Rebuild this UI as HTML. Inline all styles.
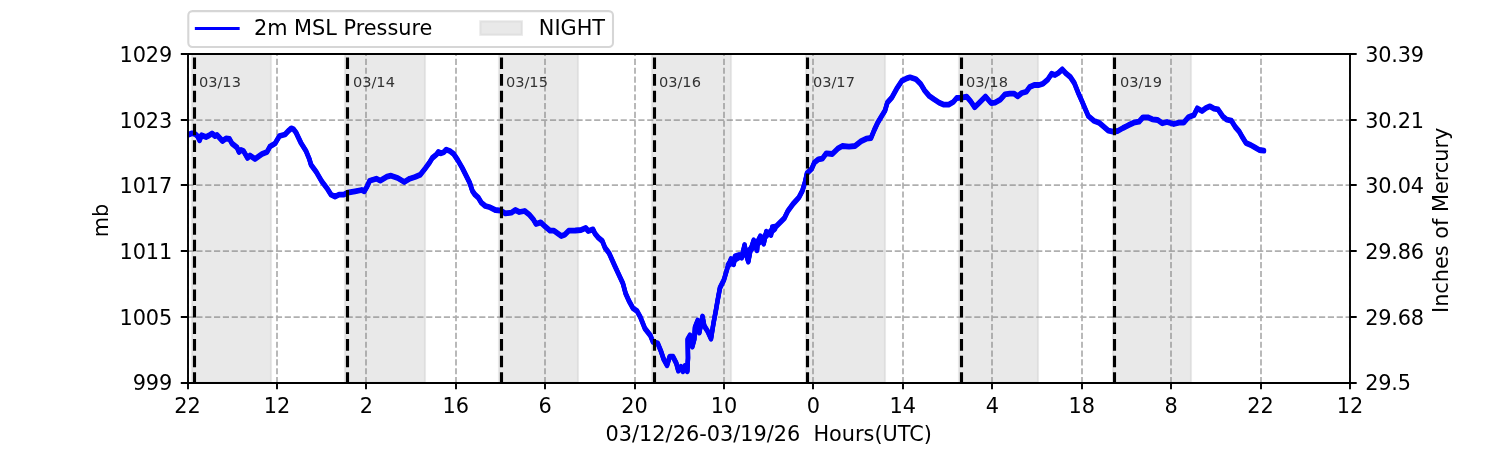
<!DOCTYPE html>
<html lang="en"><head><meta charset="utf-8"><title>2m MSL Pressure</title>
<style>html,body{margin:0;padding:0;background:#fff}svg{display:block}text{font-family:"DejaVu Sans","Liberation Sans",sans-serif;fill:#000}</style></head><body>
<svg width="1500" height="450" viewBox="0 0 1500 450">
<rect width="1500" height="450" fill="#fff"/>
<defs><clipPath id="ax"><rect x="187.5" y="54" width="1162.5" height="328.5"/></clipPath></defs>
<g clip-path="url(#ax)" fill="#d3d3d3" fill-opacity="0.5" stroke="#d3d3d3" stroke-opacity="0.5" stroke-width="2.08">
<rect x="192" y="54" width="79" height="328.5"/>
<rect x="345" y="54" width="80" height="328.5"/>
<rect x="499" y="54" width="79" height="328.5"/>
<rect x="652" y="54" width="79" height="328.5"/>
<rect x="806" y="54" width="79" height="328.5"/>
<rect x="959" y="54" width="79" height="328.5"/>
<rect x="1113" y="54" width="78" height="328.5"/>
</g>
<path d="M188 383.2 V54 M277 383.2 V54 M366 383.2 V54 M456 383.2 V54 M545 383.2 V54 M635 383.2 V54 M724 383.2 V54 M813 383.2 V54 M903 383.2 V54 M992 383.2 V54 M1082 383.2 V54 M1171 383.2 V54 M1261 383.2 V54 M1350 383.2 V54 M187.5 383 H1350 M187.5 317 H1350 M187.5 251 H1350 M187.5 185 H1350 M187.5 120 H1350 M187.5 54 H1350" fill="none" stroke="#808080" stroke-opacity="0.63" stroke-width="1.75" stroke-dasharray="6.17 2.67" clip-path="url(#ax)"/>
<g clip-path="url(#ax)" fill="none" stroke="#0000ff" stroke-width="4.4" stroke-linejoin="round" stroke-linecap="round">
<path id="crv" d="M187.5 134.5 L189.0 134.5 L192.0 133.3 L195.5 134.3 L197.8 136.5 L199.6 140.3 L201.5 135.2 L206.0 137.0 L209.0 135.5 L212.0 133.5 L215.0 136.0 L217.0 135.0 L222.5 141.0 L226.0 138.5 L229.5 139.0 L232.0 143.5 L237.0 147.5 L239.0 152.0 L241.0 150.0 L243.5 151.0 L247.5 158.0 L250.0 155.5 L255.0 159.0 L262.0 154.0 L267.0 152.0 L270.0 146.5 L275.0 143.5 L279.5 136.0 L285.0 134.5 L289.0 130.3 L291.2 128.3 L293.5 129.2 L296.0 132.5 L301.0 143.0 L306.0 151.0 L309.2 158.7 L311.0 164.7 L316.3 172.0 L321.7 181.3 L327.7 189.3 L331.0 194.7 L335.0 196.7 L339.0 194.7 L343.7 194.7 L347.7 192.7 L355.0 191.3 L361.7 190.0 L364.3 191.3 L367.0 186.7 L369.7 180.7 L376.3 178.7 L380.3 180.7 L387.0 176.7 L391.0 175.7 L397.7 178.0 L404.3 182.0 L409.7 178.7 L415.0 177.0 L420.3 174.7 L425.0 168.7 L429.0 163.3 L432.3 158.0 L436.3 154.7 L438.3 152.0 L441.0 153.3 L443.7 152.3 L446.3 149.6 L450.3 151.3 L453.7 154.0 L457.7 160.0 L462.3 168.0 L466.3 176.0 L469.7 182.7 L472.3 190.7 L475.0 194.7 L478.3 197.7 L481.3 202.7 L485.3 206.0 L490.0 207.3 L495.3 210.0 L500.7 210.7 L505.3 213.3 L511.3 212.7 L515.3 210.0 L519.3 212.0 L524.7 211.0 L529.3 214.7 L533.3 219.3 L536.0 224.0 L540.7 222.4 L545.3 226.7 L550.0 230.7 L554.0 230.7 L561.3 236.0 L564.7 234.7 L568.7 230.7 L575.3 230.5 L581.0 230.0 L585.7 228.0 L588.3 231.0 L593.0 229.4 L595.0 233.7 L598.3 237.7 L602.3 241.0 L605.0 247.7 L609.0 253.0 L612.3 260.3 L615.0 266.3 L619.0 275.0 L623.0 283.7 L625.7 293.7 L629.0 301.0 L633.0 308.3 L637.0 311.0 L640.3 317.0 L645.0 328.7 L650.3 335.3 L653.0 342.0 L657.7 343.3 L661.0 351.3 L663.7 359.3 L667.0 365.3 L669.7 356.7 L673.0 356.7 L676.3 363.3 L678.3 370.7 L681.0 366.7 L683.0 371.3 L685.0 366.0 L687.3 371.3 L688.0 358.0 L687.7 339.3 L690.0 335.3 L692.3 346.7 L694.3 339.3 L695.0 327.3 L697.7 320.5 L699.3 332.7 L702.5 316.5 L704.3 326.0 L707.7 331.3 L711.0 338.7 L713.4 323.7 L715.9 310.3 L718.0 298.3 L720.0 287.7 L724.0 279.7 L727.7 267.0 L731.0 259.0 L733.7 264.3 L735.0 256.3 L739.0 255.0 L741.7 257.7 L744.6 245.0 L746.3 255.0 L748.3 261.7 L750.3 251.0 L753.7 240.3 L757.0 250.3 L757.7 241.7 L760.3 236.3 L763.7 243.7 L766.3 231.7 L771.0 235.0 L772.3 227.0 L776.3 226.3 L780.3 222.3 L784.3 218.3 L787.7 211.3 L793.0 204.0 L799.0 197.3 L802.4 190.7 L804.9 182.7 L807.0 173.3 L811.7 168.7 L814.3 162.7 L818.3 159.3 L822.3 158.7 L826.3 153.3 L832.3 154.0 L837.7 148.7 L842.3 146.0 L849.0 146.7 L855.0 146.0 L861.0 141.3 L866.3 138.7 L871.0 138.0 L874.3 130.0 L877.7 122.7 L881.7 116.0 L885.0 110.7 L887.3 102.7 L892.0 97.3 L896.7 88.7 L902.0 80.7 L906.7 78.4 L910.0 77.3 L916.0 79.3 L920.7 84.0 L924.7 90.7 L929.3 96.0 L934.0 99.3 L939.3 102.7 L944.0 104.7 L948.7 104.7 L953.3 102.0 L956.7 98.0 L962.0 97.7 L966.7 96.7 L970.7 101.3 L974.7 107.3 L979.3 102.7 L985.5 96.5 L991.0 103.0 L995.0 102.7 L1000.3 99.7 L1005.0 94.3 L1009.7 93.7 L1014.3 93.7 L1017.7 96.3 L1021.7 93.0 L1026.3 91.7 L1029.7 87.0 L1034.3 85.0 L1039.0 85.0 L1043.0 83.7 L1047.7 79.7 L1051.7 73.7 L1055.0 75.0 L1058.3 73.0 L1062.3 69.4 L1066.3 73.7 L1070.3 77.0 L1074.3 83.0 L1078.3 93.0 L1082.3 102.0 L1085.7 110.0 L1088.3 116.0 L1093.7 120.7 L1099.0 122.7 L1103.7 126.7 L1108.3 130.7 L1113.0 131.6 L1117.7 131.0 L1123.0 128.0 L1128.3 125.3 L1133.7 122.7 L1139.0 121.7 L1143.0 117.3 L1147.7 117.3 L1152.3 119.3 L1157.7 120.0 L1162.3 123.3 L1167.0 122.0 L1173.7 124.0 L1179.0 122.7 L1183.7 122.7 L1188.3 117.3 L1194.0 115.0 L1197.3 108.3 L1202.0 111.0 L1206.0 108.0 L1210.0 106.3 L1214.0 108.7 L1218.0 109.4 L1222.7 116.3 L1226.7 119.7 L1231.3 120.6 L1235.3 127.0 L1239.3 131.7 L1242.7 137.7 L1246.0 143.0 L1250.7 145.0 L1255.3 147.7 L1259.3 150.0 L1264.0 150.7"/>
<use href="#crv" y="-0.7"/><use href="#crv" y="0.7"/>
</g>
<path d="M729 264.5 L733 260.5 L738 257.5 L746 253 L750 250 L754 246 L758 243 L762 239.5 L767 234.5 L771 231.5 L774 229" fill="none" stroke="#0000ff" stroke-width="6.5" stroke-linejoin="round" stroke-linecap="round" clip-path="url(#ax)"/>
<path d="M194.5 383.8 V54 M347.5 383.8 V54 M501.5 383.8 V54 M654.5 383.8 V54 M807.5 383.8 V54 M961.5 383.8 V54 M1114.5 383.8 V54" fill="none" stroke="#000" stroke-width="3.125" stroke-dasharray="11.5625 5" clip-path="url(#ax)"/>
<text x="198.9" y="86.8" font-size="14.58" style="fill:#333">03/13</text>
<text x="352.9" y="86.8" font-size="14.58" style="fill:#333">03/14</text>
<text x="505.9" y="86.8" font-size="14.58" style="fill:#333">03/15</text>
<text x="658.9" y="86.8" font-size="14.58" style="fill:#333">03/16</text>
<text x="812.9" y="86.8" font-size="14.58" style="fill:#333">03/17</text>
<text x="965.9" y="86.8" font-size="14.58" style="fill:#333">03/18</text>
<text x="1119.9" y="86.8" font-size="14.58" style="fill:#333">03/19</text>
<path d="M188 54 H1350 V383 H188 Z" fill="none" stroke="#000" stroke-width="1.9" stroke-linejoin="miter"/>
<path d="M188 382.5 v6.70 M277 382.5 v6.70 M366 382.5 v6.70 M456 382.5 v6.70 M545 382.5 v6.70 M635 382.5 v6.70 M724 382.5 v6.70 M813 382.5 v6.70 M903 382.5 v6.70 M992 382.5 v6.70 M1082 382.5 v6.70 M1171 382.5 v6.70 M1261 382.5 v6.70 M1350 382.5 v6.70 M187.5 383 h-6.70 M1350 383 h6.70 M187.5 317 h-6.70 M1350 317 h6.70 M187.5 251 h-6.70 M1350 251 h6.70 M187.5 185 h-6.70 M1350 185 h6.70 M187.5 120 h-6.70 M1350 120 h6.70 M187.5 54 h-6.70 M1350 54 h6.70" fill="none" stroke="#000" stroke-width="1.9"/>
<text x="187.50" y="413.2" font-size="20.83" text-anchor="middle">22</text>
<text x="276.92" y="413.2" font-size="20.83" text-anchor="middle">12</text>
<text x="366.35" y="413.2" font-size="20.83" text-anchor="middle">2</text>
<text x="455.77" y="413.2" font-size="20.83" text-anchor="middle">16</text>
<text x="545.19" y="413.2" font-size="20.83" text-anchor="middle">6</text>
<text x="634.62" y="413.2" font-size="20.83" text-anchor="middle">20</text>
<text x="724.04" y="413.2" font-size="20.83" text-anchor="middle">10</text>
<text x="813.46" y="413.2" font-size="20.83" text-anchor="middle">0</text>
<text x="902.88" y="413.2" font-size="20.83" text-anchor="middle">14</text>
<text x="992.31" y="413.2" font-size="20.83" text-anchor="middle">4</text>
<text x="1081.73" y="413.2" font-size="20.83" text-anchor="middle">18</text>
<text x="1171.15" y="413.2" font-size="20.83" text-anchor="middle">8</text>
<text x="1260.58" y="413.2" font-size="20.83" text-anchor="middle">22</text>
<text x="1350.00" y="413.2" font-size="20.83" text-anchor="middle">12</text>
<text x="172.1" y="390.40" font-size="20.83" text-anchor="end" letter-spacing="-0.1">999</text>
<text x="1365.3" y="390.40" font-size="20.83" letter-spacing="-0.25">29.5</text>
<text x="172.1" y="324.70" font-size="20.83" text-anchor="end" letter-spacing="-0.1">1005</text>
<text x="1365.3" y="324.70" font-size="20.83" letter-spacing="-0.25">29.68</text>
<text x="172.1" y="259.00" font-size="20.83" text-anchor="end" letter-spacing="-0.1">1011</text>
<text x="1365.3" y="259.00" font-size="20.83" letter-spacing="-0.25">29.86</text>
<text x="172.1" y="193.30" font-size="20.83" text-anchor="end" letter-spacing="-0.1">1017</text>
<text x="1365.3" y="193.30" font-size="20.83" letter-spacing="-0.25">30.04</text>
<text x="172.1" y="127.60" font-size="20.83" text-anchor="end" letter-spacing="-0.1">1023</text>
<text x="1365.3" y="127.60" font-size="20.83" letter-spacing="-0.25">30.21</text>
<text x="172.1" y="61.90" font-size="20.83" text-anchor="end" letter-spacing="-0.1">1029</text>
<text x="1365.3" y="61.90" font-size="20.83" letter-spacing="-0.25">30.39</text>
<text x="768.8" y="440.8" font-size="20.83" text-anchor="middle" xml:space="preserve">03/12/26-03/19/26  Hours(UTC)</text>
<text transform="translate(108.1 220.5) rotate(-90)" font-size="20.83" text-anchor="middle">mb</text>
<text transform="translate(1447.9 220.3) rotate(-90)" font-size="20.83" text-anchor="middle">Inches of Mercury</text>
<rect x="188.3" y="11.1" width="424.7" height="35.9" rx="4.2" ry="4.2" fill="#fff" fill-opacity="0.8" stroke="#ccc" stroke-opacity="0.8" stroke-width="2.08"/>
<path d="M196.4 28.5 H238.1" stroke="#0000ff" stroke-width="3.125" stroke-linecap="square"/>
<text x="253.9" y="34.8" font-size="20.83">2m MSL Pressure</text>
<rect x="480.3" y="21.3" width="41.6" height="13.5" fill="#d3d3d3" fill-opacity="0.5" stroke="#d3d3d3" stroke-opacity="0.5" stroke-width="2.08"/>
<text x="538.8" y="34.8" font-size="20.83">NIGHT</text>
</svg></body></html>
